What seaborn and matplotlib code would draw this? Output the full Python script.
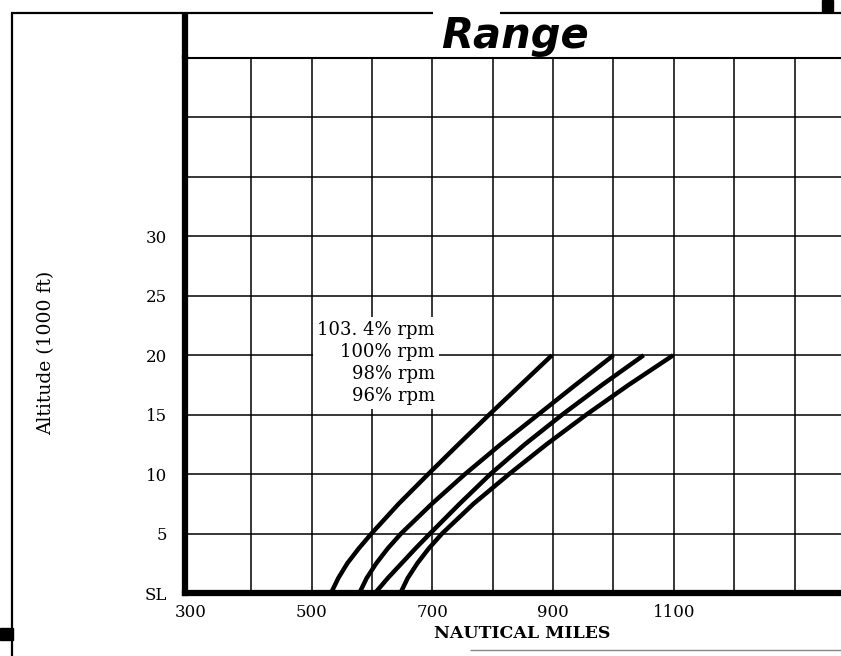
import pandas as pd
import seaborn as sns
import matplotlib.pyplot as plt
from matplotlib.lines import Line2D
from matplotlib.patches import Rectangle

# altitude in 1000 ft, range in nautical miles
altitude = [0, 1.25, 2.5, 3.75, 5, 7.5, 10, 12.5, 15, 17.5, 20]
range_1034 = [532, 544, 559, 578, 599, 644, 693, 743, 794, 846, 898]
range_100 = [579, 591, 607, 626, 648, 699, 754, 813, 875, 937, 1000]
range_98 = [605, 626, 649, 672, 696, 745, 796, 853, 915, 981, 1050]
range_96 = [647, 659, 675, 694, 716, 768, 827, 889, 955, 1025, 1099]

rpm_names = ["103.4%", "100%", "98%", "96%"]
rpm_labels = ["103. 4% rpm", "100% rpm", "98% rpm", "96% rpm"]

x_ticks = [300, 500, 700, 900, 1100]
x_grid = [400, 500, 600, 700, 800, 900, 1000, 1100, 1200, 1300]
y_ticks = [0, 5, 10, 15, 20, 25, 30, 35, 40, 45]
y_tick_labels = ["SL", "5", "10", "15", "20", "25", "30", "", "", ""]

W, H = 841, 656


def fx(x):
    return x / W


def fy(y):
    return 1 - y / H


def build_df():
    rows = []
    for name, vals in zip(rpm_names, [range_1034, range_100, range_98, range_96]):
        for a, r in zip(altitude, vals):
            rows.append({"rpm": name, "alt": a, "range": r})
    return pd.DataFrame(rows)


def main():
    sns.set_style("white", {"text.color": "black", "axes.labelcolor": "black",
                            "xtick.color": "black", "ytick.color": "black"})
    plt.rcParams["font.family"] = ["DejaVu Serif"]

    df = build_df()

    fig = plt.figure(figsize=(W / 100, H / 100), dpi=100)
    ax = fig.add_axes([fx(185), fy(593), fx(841) - fx(185), fy(58) - fy(593)])

    sns.lineplot(data=df, x="range", y="alt", hue="rpm", palette=["black"] * 4,
                 estimator=None, sort=False, legend=False, linewidth=3.2, ax=ax)
    for ln in ax.lines:
        ln.set_solid_joinstyle("round")
        ln.set_solid_capstyle("butt")

    ax.set_xlim(290, 1377)
    ax.set_ylim(0, 45)

    # grid lines on major ticks, labels on minor ticks
    ax.xaxis.remove_overlapping_locs = False
    ax.set_xticks(x_grid)
    ax.set_xticklabels([])
    ax.set_xticks(x_ticks, [str(v) for v in x_ticks], minor=True)
    ax.set_yticks(y_ticks, y_tick_labels)
    ax.grid(True, which="major", color="black", linewidth=1.1)
    ax.set_axisbelow(True)
    ax.tick_params(axis="both", which="both", length=0, labelsize=12, colors="black")
    ax.tick_params(axis="x", which="minor", pad=8)
    ax.tick_params(axis="y", pad=13)
    ax.set_xlabel("")
    ax.set_ylabel("")

    ax.spines["right"].set_visible(False)
    ax.spines["left"].set_linewidth(4.5)
    ax.spines["bottom"].set_linewidth(4.5)
    ax.spines["top"].set_linewidth(1.5)
    for s in ax.spines.values():
        s.set_color("black")

    # rpm labels with white background covering the grid
    ax.text(290 + (435 - 185) / 0.6033, 19.35, "\n".join(rpm_labels),
            ha="right", va="center", multialignment="right", fontsize=13,
            linespacing=1.27, zorder=3, color="black",
            bbox=dict(facecolor="white", edgecolor="none", pad=3))

    # frame lines of the page
    def fline(x0, y0, x1, y1, lw, color="black"):
        fig.add_artist(Line2D([fx(x0), fx(x1)], [fy(y0), fy(y1)], color=color,
                              linewidth=lw, transform=fig.transFigure,
                              solid_capstyle="butt"))

    fline(12, 12.5, 12, 656, 1.6)
    fline(11, 12.5, 433, 12.5, 1.6)
    fline(500, 12.5, 841, 12.5, 1.6)
    fline(185, 59, 185, 11.5, 4.5)
    fline(470, 650, 841, 650, 1.0, color="#888888")

    fig.add_artist(Rectangle((fx(0), fy(640)), fx(13), fy(628) - fy(640),
                             color="black", transform=fig.transFigure))
    fig.add_artist(Rectangle((fx(822), fy(12)), fx(11), fy(0) - fy(12),
                             color="black", transform=fig.transFigure))

    fig.text(fx(515), fy(36), "Range", fontsize=30, fontweight="bold",
             fontstyle="italic", family="DejaVu Sans", ha="center", va="center",
             color="black")
    fig.text(fx(522), fy(634), "NAUTICAL MILES", fontsize=12.5, fontweight="bold",
             ha="center", va="center", color="black")
    fig.text(fx(46), fy(353), "Altitude (1000 ft)", fontsize=13.5, rotation=90,
             ha="center", va="center", color="black")

    fig.savefig("out.png", dpi=100)


if __name__ == "__main__":
    main()
